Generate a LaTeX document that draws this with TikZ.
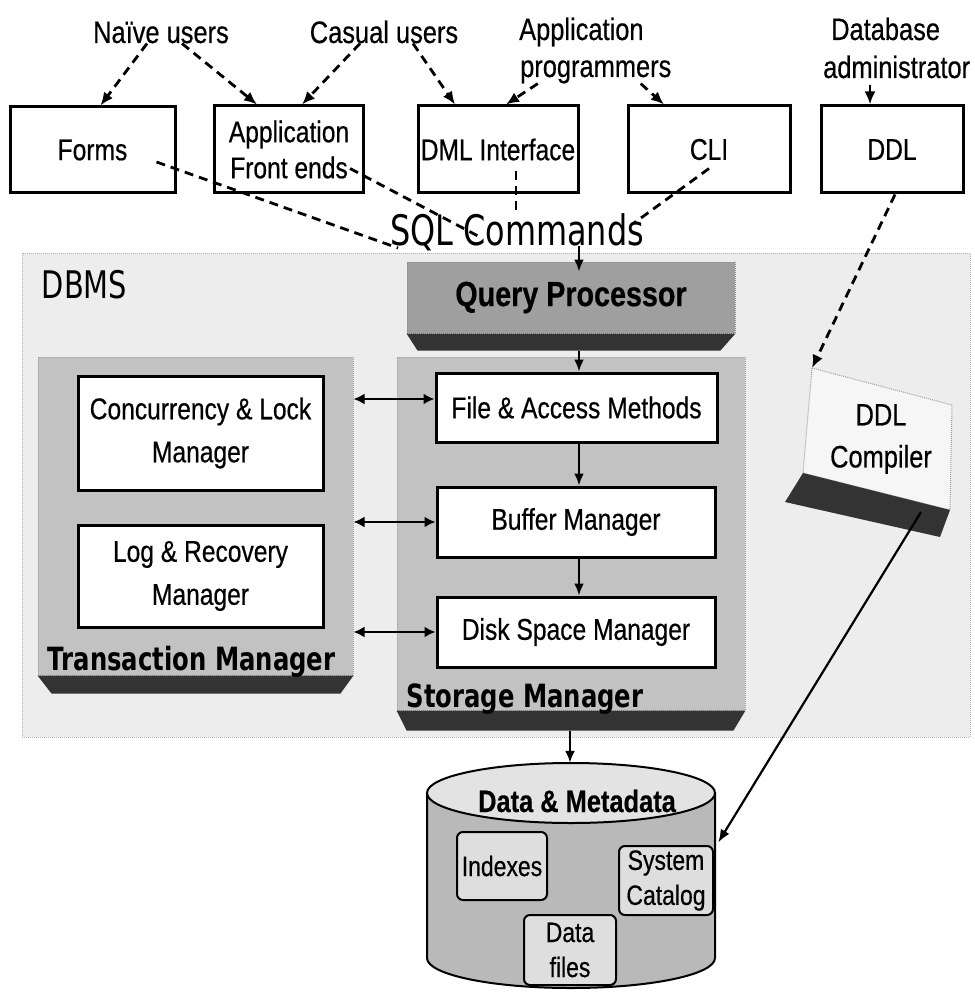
\documentclass[tikz,border=0pt]{standalone}
\usepackage{fontspec}
\setmainfont{Liberation Sans}
\newfontfamily\narrowfont[FakeStretch=0.82,FakeBold=0.5]{Liberation Sans}
\newfontfamily\tahomafont[FakeStretch=0.76]{DejaVu Sans}
\usetikzlibrary{arrows.meta,calc}

\tikzset{
  lbl/.style={inner sep=0pt, font=\narrowfont\fontsize{31}{37}\selectfont},
  box/.style={draw, line width=3pt, fill=white, inner sep=0pt, align=center,
              font=\narrowfont\fontsize{30}{36}\selectfont},
  panel/.style={fill=gray!48, draw=gray!75, densely dotted, line width=1pt, inner sep=0pt},
  band/.style={fill=black!80},
  rbox/.style={draw, line width=2pt, rounded corners=6pt, fill=gray!26, inner sep=0pt,
               align=center, font=\narrowfont\fontsize{28}{35}\selectfont},
  dashline/.style={line width=2.8pt, dash pattern=on 9pt off 6pt},
  dasharrow/.style={dashline, -{Latex[length=13pt,width=11pt]}},
  arr/.style={line width=2.4pt, -{Latex[length=12pt,width=10pt]}},
  dbl/.style={line width=2.8pt, {Latex[length=11pt,width=11pt]}-{Latex[length=11pt,width=11pt]}},
  boldlbl/.style={inner sep=0pt, font=\tahomafont\bfseries\fontsize{32}{38}\selectfont},
}

\begin{document}
\begin{tikzpicture}[x=1pt,y=-1pt]
\useasboundingbox (0,0) rectangle (974,992);

% ---------- DBMS area ----------
\node[panel, fill=gray!14, draw=gray!60, minimum width=948, minimum height=484] (dbmsarea) at (496,495) {};
\node[inner sep=0pt, anchor=base, font=\tahomafont\fontsize{38}{44}\selectfont] (dbms) at (84.5,298) {DBMS};

% transaction manager panel
\node[panel, minimum width=315, minimum height=318] (tm) at (195.5,516) {};
\fill[band] (tm.south west) -- (tm.south east) -- ($(tm.south east)+(-13,18)$) -- ($(tm.south west)+(14,18)$) -- cycle;

% storage manager panel
\node[panel, minimum width=348, minimum height=353] (sm) at (571,533.5) {};
\fill[band] (sm.south west) -- (sm.south east) -- ($(sm.south east)+(-12,20)$) -- ($(sm.south west)+(10,20)$) -- cycle;

% query processor
\node[panel, fill=gray!75, draw=gray!90, minimum width=328, minimum height=71,
      font=\narrowfont\bfseries\fontsize{35}{40}\selectfont] (qp) at (571,297.5) {Query Processor};
\fill[band] (qp.south west) -- (qp.south east) -- ($(qp.south east)+(-15,17)$) -- ($(qp.south west)+(11,17)$) -- cycle;

% inner component boxes
\node[box, minimum width=245, minimum height=114, font=\narrowfont\fontsize{30}{43}\selectfont] (clm) at (200.5,433) {Concurrency \& Lock\\Manager};
\node[box, minimum width=245, minimum height=102, font=\narrowfont\fontsize{30}{43}\selectfont] (lrm) at (200.5,576) {Log \& Recovery\\Manager};
\node[box, minimum width=281, minimum height=69] (file) at (576.5,407.5) {File \& Access Methods};
\node[box, minimum width=278, minimum height=70] (buffer) at (576,522) {Buffer Manager};
\node[box, minimum width=278, minimum height=70] (disk) at (576,632) {Disk Space Manager};

\node[boldlbl, anchor=base] (tmlabel) at (191.5,670) {Transaction Manager};
\node[boldlbl, anchor=base] (smlabel) at (525,707) {Storage Manager};

% ---------- users and interfaces ----------
\node[lbl, anchor=base] (naive) at (161,43) {Naïve users};
\node[lbl, anchor=base] (casual) at (384,43) {Casual users};
\node[lbl, anchor=base west] (approg1) at (519,40) {Application};
\node[lbl, anchor=base west] (approg2) at (520,77) {programmers};
\node[lbl, anchor=base west] (dbadm1) at (831,40) {Database};
\node[lbl, anchor=base west] (dbadm2) at (823,78) {administrator};

\node[box, minimum width=165, minimum height=86] (forms) at (92.5,150) {Forms};
\node[box, minimum width=149, minimum height=87] (appfe) at (289,149.5) {Application\\Front ends};
\node[box, minimum width=160, minimum height=87] (dml) at (498,149.5) {DML Interface};
\node[box, minimum width=162, minimum height=87] (cli) at (709,149.5) {CLI};
\node[box, minimum width=142, minimum height=87] (ddl) at (892,149.5) {DDL};

\node[inner sep=0pt, anchor=base, font=\tahomafont\fontsize{42}{48}\selectfont] (sql) at (517,245) {SQL Commands};

% ---------- DDL compiler ----------
\coordinate (ctl) at (812,368);
\coordinate (ctr) at (952,405);
\coordinate (cbr) at (950,510);
\coordinate (cbl) at (803,473);
\filldraw[fill=gray!7, draw=gray!75, densely dotted, line width=1pt] (ctl) -- (ctr) -- (cbr) -- (cbl) -- cycle;
\fill[band] (cbl) -- (cbr) -- (940,537) -- (785,502) -- cycle;
\node[lbl, align=center, font=\narrowfont\fontsize{31}{42}\selectfont] (ddlc) at (881,439) {DDL\\Compiler};
\coordinate (ddlcout) at (921,512);

% ---------- data store ----------
\node[inner sep=0pt, minimum width=288, minimum height=225] (db) at (571,875.5) {};
\filldraw[fill=gray!55, line width=2pt] (427,793) -- (427,958)
  .. controls (427,974.6) and (491.5,988) .. (571,988)
  .. controls (650.5,988) and (715,974.6) .. (715,958) -- (715,793) -- cycle;
\filldraw[fill=gray!22, line width=2pt] (571,793) ellipse [x radius=144, y radius=30];
\node[inner sep=0pt, anchor=base, font=\narrowfont\bfseries\fontsize{31}{36}\selectfont] (dbtitle) at (577,812) {Data \& Metadata};
\node[rbox, minimum width=90, minimum height=68] (indexes) at (502,866) {Indexes};
\node[rbox, minimum width=94, minimum height=69] (syscat) at (666,880.5) {System\\Catalog};
\node[rbox, minimum width=92, minimum height=70] (datafiles) at (570,950) {Data\\files};

% ---------- connectors ----------
\draw[dasharrow] ($(naive.south)+(-14,0)$) -- ($(forms.north)+(8,0)$);
\draw[dasharrow] ($(naive.south)+(21,0)$) -- ($(appfe.north)+(-32,0)$);
\draw[dasharrow] ($(casual.south)+(-24,0)$) -- ($(appfe.north)+(13,0)$);
\draw[dasharrow] ($(casual.south)+(29,0)$) -- ($(dml.north)+(-43,0)$);
\draw[dasharrow] ($(approg2.south)+(-58,0)$) -- ($(dml.north)+(8,0)$);
\draw[dasharrow] ($(approg2.south)+(45,0)$) -- ($(cli.north)+(-45,0)$);
\draw[dasharrow] ($(dbadm2.south west)+(47,6)$) -- ($(ddl.north)+(-22,0)$);

\draw[dashline] ($(forms.east)+(-20,12)$) -- ($(sql.base)+(-119,3)$);
\draw[dashline] ($(appfe.east)+(-15,19)$) -- ($(sql.base)+(-39,-9)$);
\draw[dashline] ($(dml.south)+(18,-23)$) -- ($(sql.north)+(-1,0)$);
\draw[dashline] ($(cli.south)+(0,-26)$) -- ($(sql.north east)+(-10,10)$);

\draw[arr] ($(sql.base)+(62,1)$) -- ($(qp.north)+(8,10)$);
\draw[arr] ($(qp.south)+(8,17)$) -- ($(file.north)+(2.5,0)$);
\draw[arr] ($(file.south)+(2.5,0)$) -- ($(buffer.north)+(3,0)$);
\draw[arr] ($(buffer.south)+(3,0)$) -- ($(disk.north)+(3,0)$);
\draw[arr] ($(sm.south)+(-1,20)$) -- ($(db.north)+(-1,0)$);

\draw[dbl] ([yshift=8.5pt]file.west -| tm.east) -- ([yshift=8.5pt]file.west);
\draw[dbl] (buffer.west -| tm.east) -- (buffer.west);
\draw[dbl] (disk.west -| tm.east) -- (disk.west);

\draw[dasharrow] ($(ddl.south)+(3,0)$) -- (ctl);
\draw[line width=2.2pt, -{Latex[length=13pt,width=10pt]}] (ddlcout) -- ($(db.east)+(3,-33)$);

\end{tikzpicture}
\end{document}
